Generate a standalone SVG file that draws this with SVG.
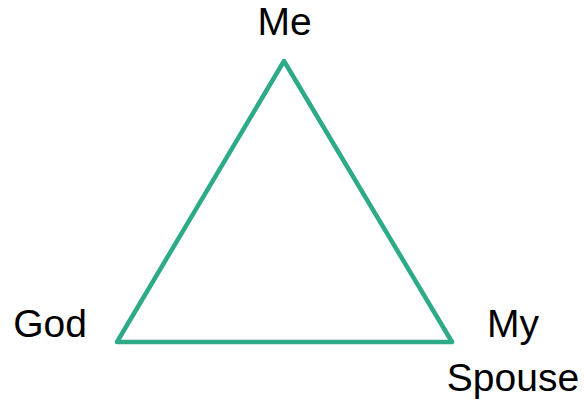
<svg xmlns="http://www.w3.org/2000/svg" width="585" height="401" viewBox="0 0 585 401">
<style>
text{font-family:"Liberation Sans",Arial,sans-serif;font-size:39px;fill:#000;text-anchor:middle}
.edge{stroke:#2DAA87;stroke-width:4.5;fill:none;stroke-linejoin:round;stroke-linecap:round}
</style>
<rect width="585" height="401" fill="#fff"/>
<g id="connectors">
<path class="edge" d="M284 61 L452 342 L117 342 Z"/>
</g>
<g id="me"><text x="284.5" y="35">Me</text></g>
<g id="god"><text x="50" y="337">God</text></g>
<g id="spouse"><text x="513" y="337">My</text><text x="513" y="391">Spouse</text></g>
</svg>
